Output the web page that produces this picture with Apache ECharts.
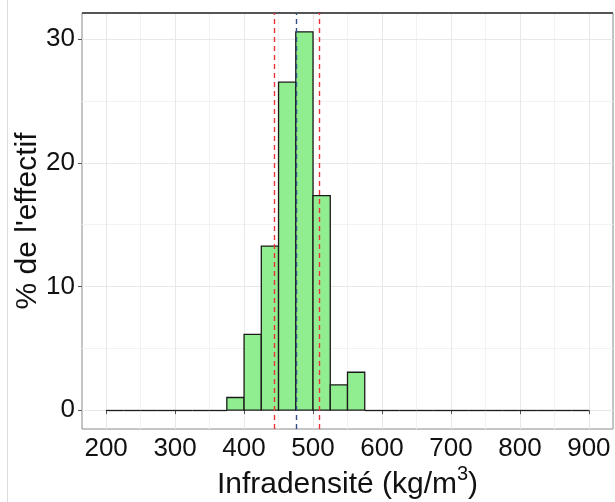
<!DOCTYPE html>
<html><head><meta charset="utf-8">
<script src="https://cdn.jsdelivr.net/npm/echarts@6/dist/echarts.min.js"></script>
<style>html,body{margin:0;padding:0;background:#fff}#c{width:615px;height:502px}</style>
</head><body><div id="c"></div>
<script>
// Histogram bins (lower edges, kg/m3) and % of sample in each bin
const binLow = [200,225,250,275,300,325,350,375,400,425,450,475,500,525,550,575,600,625,650,675,700,725,750,775,800,825,850,875];
const binWidth = 25;
const percent = [0,0,0,0,0,0,0,1.02,6.12,13.27,26.53,30.61,17.35,2.04,3.06,0,0,0,0,0,0,0,0,0,0,0,0,0];
// Reference lines
const meanValue = 476;
const sdBounds = [444.5, 508.5];
// Axis ticks
const xTicks = [200,300,400,500,600,700,800,900];
const xMinor = [250,350,450,550,650,750,850];
const yTicks = [0,10,20,30];
const yMinor = [5,15,25];

const font = 'Liberation Sans, Arial, sans-serif';
const chart = echarts.init(document.getElementById('c'), null, {renderer:'canvas'});

const gridLineSeries = {
  type:'line', data:[], z:0, silent:true,
  markLine:{
    z:0, silent:true, symbol:['none','none'], animation:false, label:{show:false},
    data:[
      ...xMinor.map(v=>({xAxis:v, lineStyle:{color:'#f2f2f2', width:1, type:'solid'}})),
      ...yMinor.map(v=>({yAxis:v, lineStyle:{color:'#f2f2f2', width:1, type:'solid'}})),
      ...xTicks.map(v=>({xAxis:v, lineStyle:{color:'#e8e8e8', width:1, type:'solid'}})),
      ...yTicks.map(v=>({yAxis:v, lineStyle:{color:'#e8e8e8', width:1, type:'solid'}}))
    ]
  }
};

const histSeries = {
  type:'custom', z:5, animation:false,
  data: binLow.map((b,i)=>[b, b+binWidth, percent[i]]),
  renderItem:function(params, api){
    const p0 = api.coord([api.value(0), 0]);
    const p1 = api.coord([api.value(1), api.value(2)]);
    const h = p0[1]-p1[1];
    if (h < 0.5) {
      const y = Math.round(p0[1]) + 0.5;
      return {type:'line', shape:{x1:p0[0], y1:y, x2:p1[0], y2:y},
        style:{stroke:'#1a1a1a', lineWidth:1.3}};
    }
    return {
      type:'rect',
      shape:{x:p0[0], y:p1[1], width:p1[0]-p0[0], height:h},
      style:{fill:'#90EE90', stroke:'#1a1a1a', lineWidth:1.3}
    };
  }
};

const refSeries = {
  type:'line', data:[], z:10, silent:true,
  markLine:{
    z:10, silent:true, symbol:['none','none'], animation:false, label:{show:false},
    data:[
      ...sdBounds.map(v=>({xAxis:v, lineStyle:{color:'#e8353b', width:1.4, type:[5,4]}})),
      {xAxis:meanValue, lineStyle:{color:'#2f4f84', width:1.4, type:[5,4]}}
    ]
  }
};

chart.setOption({
  animation:false,
  grid:{left:82, right:2, top:13, bottom:73, show:true, borderColor:'#8a8a8a', borderWidth:1,
        backgroundColor:'transparent', containLabel:false, outerBoundsMode:'none'},
  xAxis:{
    type:'value', min:165, max:935,
    axisLine:{show:false},
    splitLine:{show:false},
    axisTick:{show:true, length:4, customValues:xTicks, lineStyle:{color:'#555'}},
    axisLabel:{customValues:xTicks, color:'#111', fontSize:26, fontFamily:font, margin:7},
    name:'{base|Infradensité (kg/m}{sup|3}{base|)}', nameLocation:'middle', nameGap:35,
    nameMoveOverlap:false,
    nameTextStyle:{color:'#111', fontSize:30, fontFamily:font,
      rich:{
        base:{fontSize:30, fontFamily:font, color:'#111', lineHeight:36, verticalAlign:'bottom'},
        sup:{fontSize:20, fontFamily:font, color:'#111', lineHeight:22, verticalAlign:'top'}
      }}
  },
  yAxis:{
    type:'value', min:-1.53, max:32.13,
    axisLine:{show:false},
    splitLine:{show:false},
    axisTick:{show:true, length:4, customValues:yTicks, lineStyle:{color:'#555'}},
    axisLabel:{customValues:yTicks, color:'#111', fontSize:26, fontFamily:font, margin:7},
    name:"% de l'effectif", nameLocation:'middle', nameGap:39,
    nameMoveOverlap:false,
    nameTextStyle:{color:'#111', fontSize:30, fontFamily:font}
  },
  graphic:[
    {type:'line', shape:{x1:7.5,y1:0,x2:7.5,y2:502}, style:{stroke:'#dcdcdc', lineWidth:1}, z:0},
    {type:'line', shape:{x1:82,y1:13,x2:613,y2:13}, style:{stroke:'#555', lineWidth:2}, z:10}
  ],
  series:[gridLineSeries, histSeries, refSeries]
});
</script></body></html>
